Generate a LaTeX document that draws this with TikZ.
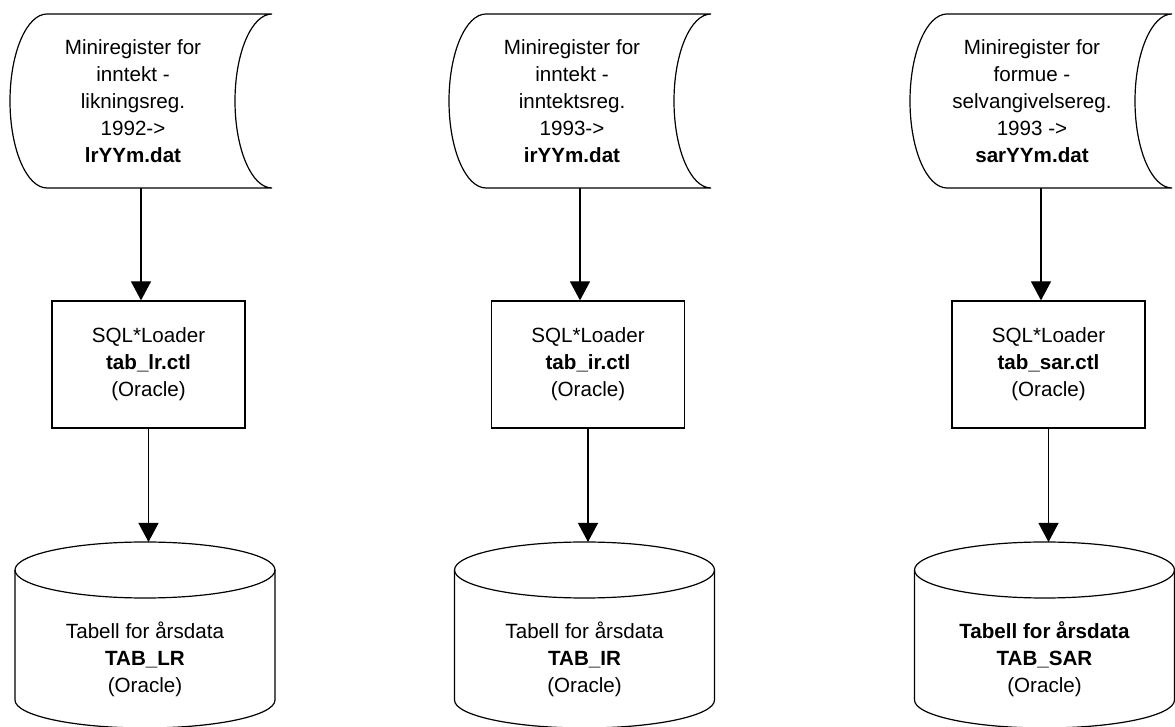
\documentclass[tikz,border=0pt]{standalone}
\usepackage{fontspec}
\setmainfont{Liberation Sans}
\usepackage{tikz}
\usetikzlibrary{arrows.meta}

\begin{document}
\begin{tikzpicture}[x=0.5pt,y=-0.5pt,line width=0.6pt,
    txt/.style={align=center, inner sep=0pt, font=\fontsize{10.3pt}{13.5pt}\selectfont},
    loader/.style={txt, draw, minimum width=96.5pt, minimum height=63.5pt},
    flow/.style={-{Triangle[width=10pt,length=9.5pt]}}]

        \useasboundingbox (0,0) rectangle (1175,727);
        \clip (0,0) rectangle (1175,727);

        % Likningsregister (left column)
        \draw (47,14)--(272,14) .. controls (251.6,14) and (235,53) .. (235,101)
        .. controls (235,149) and (251.6,188) .. (272,188)--(47,188)
        .. controls (26.6,188) and (10,149) .. (10,101)
        .. controls (10,53) and (26.6,14) .. cycle;
        \node[txt] (src1) at (133,101) {Miniregister for\\inntekt -\\likningsreg.\\1992->\\\textbf{lrYYm.dat}};
        \coordinate (src1b) at (141,188);

        \node[loader] (ldr1) at (148.5,364.5) {SQL*Loader\\\textbf{tab\_lr.ctl}\\(Oracle)};

        \draw (15,570)--(15,700) .. controls (15,715.5) and (73.2,728) .. (145,728)
        .. controls (216.8,728) and (275,715.5) .. (275,700)--(275,570);
        \draw (145,570) ellipse [x radius=65pt, y radius=14pt];
        \coordinate (tab1t) at (145,542);
        \node[txt] (tab1) at (145,659) {Tabell for årsdata\\\textbf{TAB\_LR}\\(Oracle)};

        \draw[flow] (src1b)--(src1b |- ldr1.north);
        \draw[flow] (ldr1.south)--(ldr1.south |- tab1t);

        % Inntektsregister (middle column)
        \draw (486,14)--(711,14) .. controls (690.6,14) and (674,53) .. (674,101)
        .. controls (674,149) and (690.6,188) .. (711,188)--(486,188)
        .. controls (465.6,188) and (449,149) .. (449,101)
        .. controls (449,53) and (465.6,14) .. cycle;
        \node[txt] (src2) at (572,101) {Miniregister for\\inntekt -\\inntektsreg.\\1993->\\\textbf{irYYm.dat}};
        \coordinate (src2b) at (580,188);

        \node[loader] (ldr2) at (588,364.5) {SQL*Loader\\\textbf{tab\_ir.ctl}\\(Oracle)};

        \draw (454.5,570)--(454.5,700) .. controls (454.5,715.5) and (512.7,728) .. (584.5,728)
        .. controls (656.3,728) and (714.5,715.5) .. (714.5,700)--(714.5,570);
        \draw (584.5,570) ellipse [x radius=65pt, y radius=14pt];
        \coordinate (tab2t) at (584.5,542);
        \node[txt] (tab2) at (584.5,659) {Tabell for årsdata\\\textbf{TAB\_IR}\\(Oracle)};

        \draw[flow] (src2b)--(src2b |- ldr2.north);
        \draw[flow] (ldr2.south)--(ldr2.south |- tab2t);

        % Selvangivelsesregister (right column)
        \draw (947,14)--(1172,14) .. controls (1151.6,14) and (1135,53) .. (1135,101)
        .. controls (1135,149) and (1151.6,188) .. (1172,188)--(947,188)
        .. controls (926.6,188) and (910,149) .. (910,101)
        .. controls (910,53) and (926.6,14) .. cycle;
        \node[txt] (src3) at (1032,101) {Miniregister for\\formue -\\selvangivelsereg.\\1993 ->\\\textbf{sarYYm.dat}};
        \coordinate (src3b) at (1041,188);

        \node[loader] (ldr3) at (1048.5,364.5) {SQL*Loader\\\textbf{tab\_sar.ctl}\\(Oracle)};

        \draw (914.5,570)--(914.5,700) .. controls (914.5,715.5) and (972.7,728) .. (1044.5,728)
        .. controls (1116.3,728) and (1174.5,715.5) .. (1174.5,700)--(1174.5,570);
        \draw (1044.5,570) ellipse [x radius=65pt, y radius=14pt];
        \coordinate (tab3t) at (1044.5,542);
        \node[txt] (tab3) at (1044.5,659) {\textbf{Tabell for årsdata}\\\textbf{TAB\_SAR}\\(Oracle)};

        \draw[flow] (src3b)--(src3b |- ldr3.north);
        \draw[flow] (ldr3.south)--(ldr3.south |- tab3t);

\end{tikzpicture}
\end{document}
